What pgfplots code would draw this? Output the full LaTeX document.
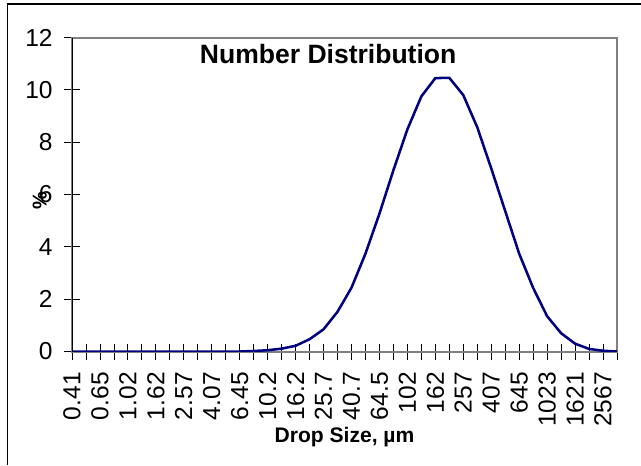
\documentclass[border=0pt]{standalone}
\usepackage{pgfplots}
\pgfplotsset{compat=1.18}
\usepackage{fontspec}
\setmainfont{Liberation Sans}
\definecolor{navyline}{RGB}{0,0,128}
\definecolor{framegray}{RGB}{128,128,128}

\begin{document}
\begin{tikzpicture}
\useasboundingbox (0pt,0pt) rectangle (480.75pt,348.75pt);
\draw[black,line width=0.8pt] (5.6pt,0pt) -- (5.6pt,345.75pt) -- (480.75pt,345.75pt);
\begin{axis}[
    at={(54pt,85.1pt)}, anchor=south west,
    scale only axis,
    width=408.75pt, height=235.5pt,
    xmin=0, xmax=39,
    ymin=0, ymax=12,
    ytick={0,2,...,12},
    xtick={0,...,39},
    xticklabels={0.41,{},0.65,{},1.02,{},1.62,{},2.57,{},4.07,{},6.45,{},10.2,{},16.2,{},25.7,{},40.7,{},64.5,{},102,{},162,{},257,{},407,{},645,{},1023,{},1621,{},2567,{}},
    tick pos=left,
    tick align=center,
    major tick length=12pt,
    tick style={black, line width=0.6pt},
    axis line style={framegray, line width=1.5pt},
    /pgf/number format/assume math mode=true,
    ticklabel style={font=\fontsize{18.4}{20}\selectfont},
    xticklabel style={rotate=90, anchor=east},
    xticklabel shift=6pt,
    yticklabel shift=5pt,
    xlabel={Drop Size, µm},
    xlabel style={font=\fontsize{15.8}{18}\selectfont\bfseries, at={(axis description cs:0.5,-0.273)}, anchor=center},
    ylabel={\%},
    ylabel style={font=\fontsize{15}{18}\selectfont\bfseries, at={(axis description cs:-0.059,0.48)}, anchor=center},
]
\addplot[color=navyline, line width=1.9pt, mark=none] coordinates {
(0,0) (1,0) (2,0) (3,0) (4,0) (5,0) (6,0) (7,0) (8,0) (9,0)
(10,0) (11,0) (12,0) (13,0.02) (14,0.05) (15,0.11) (16,0.22) (17,0.47) (18,0.85) (19,1.52)
(20,2.44) (21,3.74) (22,5.27) (23,6.93) (24,8.49) (25,9.75) (26,10.45) (27,10.46) (28,9.80) (29,8.57)
(30,7.00) (31,5.37) (32,3.74) (33,2.43) (34,1.35) (35,0.70) (36,0.30) (37,0.10) (38,0.03) (39,0)
};
\draw[black, line width=0.8pt] (rel axis cs:0,0) -- (rel axis cs:0,1);
\node[font=\fontsize{19.9}{22}\selectfont\bfseries] at (rel axis cs:0.47,0.949) {Number Distribution};
\end{axis}
\end{tikzpicture}
\end{document}
